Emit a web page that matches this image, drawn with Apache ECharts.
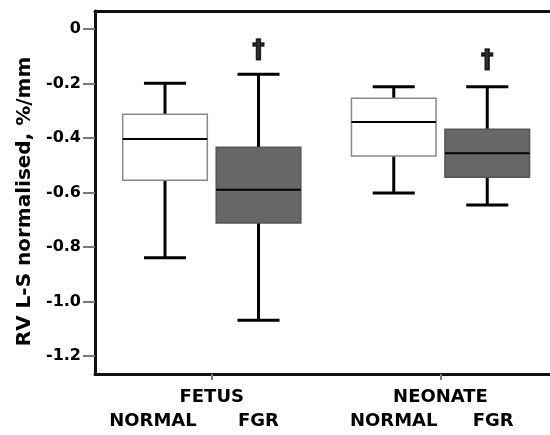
<!DOCTYPE html>
<html>
<head>
<meta charset="utf-8">
<script src="https://cdn.jsdelivr.net/npm/echarts@6/dist/echarts.min.js"></script>
<style>html,body{margin:0;padding:0;background:#fff;}#c{width:550px;height:435px;}</style>
</head>
<body>
<div id="c"></div>
<script>
// ---- data ----
const groups = ['FETUS', 'NEONATE'];
const subCategories = ['NORMAL', 'FGR'];
// [low whisker, Q1, median, Q3, high whisker]
const fetusNormal = [-0.839, -0.555, -0.404, -0.313, -0.199];
const fetusFGR = [-1.069, -0.712, -0.590, -0.434, -0.166];
const neonateNormal = [-0.602, -0.466, -0.341, -0.254, -0.212];
const neonateFGR = [-0.646, -0.544, -0.456, -0.368, -0.212];
const yTickValues = [0, -0.2, -0.4, -0.6, -0.8, -1.0, -1.2];
const yTickLabels = ['0', '-0.2', '-0.4', '-0.6', '-0.8', '-1.0', '-1.2'];
const significanceMark = '†';
const yTitle = 'RV L-S normalised, %/mm';

// ---- styles ----
const FONT = '"DejaVu Sans", "Liberation Sans", Arial, sans-serif';
const boxStyles = [
  { fill: '#ffffff', stroke: '#8a8a8a' },
  { fill: '#676767', stroke: '#555555' }
];
const Y_MIN = -1.266, Y_MAX = 0.066;

function renderBox(params, api) {
  const x = api.value(0);
  const lo = api.coord([x, api.value(1)]);
  const q1 = api.coord([x, api.value(2)]);
  const md = api.coord([x, api.value(3)]);
  const q3 = api.coord([x, api.value(4)]);
  const hi = api.coord([x, api.value(5)]);
  const bw = api.size([1, 0])[0];
  const boxW = bw * 0.905, capW = bw * 0.45;
  const cx = lo[0];
  const st = boxStyles[params.dataIndex];
  const line = (x1, y1, x2, y2, w) => ({
    type: 'line', shape: { x1, y1, x2, y2 },
    style: { stroke: '#000', lineWidth: w, lineCap: 'butt' }
  });
  return {
    type: 'group',
    children: [
      line(cx, hi[1], cx, q3[1], 3),
      line(cx, q1[1], cx, lo[1], 3),
      line(cx - capW / 2, hi[1], cx + capW / 2, hi[1], 3),
      line(cx - capW / 2, lo[1], cx + capW / 2, lo[1], 3),
      {
        type: 'rect',
        shape: { x: cx - boxW / 2, y: q3[1], width: boxW, height: q1[1] - q3[1] },
        style: { fill: st.fill, stroke: st.stroke, lineWidth: 1.5 }
      },
      line(cx - boxW / 2, md[1], cx + boxW / 2, md[1], 2)
    ]
  };
}

function toRows(a, b) {
  return [[0].concat(a), [1].concat(b)];
}

const subLabelStyle = { fontFamily: FONT, fontWeight: 'bold', fontSize: 18, color: '#000' };

function subAxis(gridIndex, padFirst, padSecond) {
  return {
    gridIndex, type: 'category', position: 'bottom',
    data: [
      { value: subCategories[0], textStyle: { padding: padFirst } },
      { value: subCategories[1], textStyle: { padding: padSecond } }
    ],
    axisLine: { show: false }, axisTick: { show: false }, splitLine: { show: false },
    axisLabel: Object.assign({ margin: 38, interval: 0 }, subLabelStyle)
  };
}
function groupAxis(gridIndex, name) {
  return {
    gridIndex, type: 'category', position: 'bottom', data: [name],
    axisLine: { show: false },
    axisTick: { show: true, alignWithLabel: true, length: 6, lineStyle: { color: '#777', width: 2 } },
    splitLine: { show: false },
    axisLabel: Object.assign({ margin: 14 }, subLabelStyle)
  };
}
function hiddenY(gridIndex) {
  return {
    gridIndex, type: 'value', min: Y_MIN, max: Y_MAX, show: false,
    splitLine: { show: false }
  };
}
function frameX(position) {
  return {
    gridIndex: 0, type: 'value', min: 0, max: 1, position,
    axisLine: { show: true, onZero: false, lineStyle: { color: '#111', width: 3 } },
    axisTick: { show: false }, axisLabel: { show: false }, splitLine: { show: false }
  };
}
const daggerLabel = {
  show: true, position: 'top', formatter: significanceMark,
  fontFamily: FONT, fontWeight: 'bold', fontSize: 24, color: '#000',
  textBorderColor: '#000', textBorderWidth: 1.6
};

const chart = echarts.init(document.getElementById('c'), null, { renderer: 'canvas' });
chart.setOption({
  animation: false,
  backgroundColor: '#fff',
  grid: [
    { left: 95, top: 11, right: 0, bottom: 61 },
    { left: 118.25, top: 11, width: 187, bottom: 61 },
    { left: 347, top: 11, width: 187, bottom: 61 }
  ],
  xAxis: [
    frameX('bottom'),
    frameX('top'),
    subAxis(1, [0, 24, 0, 0], [0, 0, 0, 0]),
    groupAxis(1, groups[0]),
    subAxis(2, [0, 0, 0, 0], [0, 0, 0, 12]),
    groupAxis(2, groups[1])
  ],
  yAxis: [
    {
      gridIndex: 0, type: 'value', min: Y_MIN, max: Y_MAX,
      name: yTitle, nameLocation: 'middle', nameGap: 58, nameRotate: 90,
      nameTextStyle: { fontFamily: FONT, fontWeight: 'bold', fontSize: 20, color: '#000', padding: [0, 18, 0, 0] },
      axisLine: { show: true, onZero: false, lineStyle: { color: '#111', width: 3 } },
      axisTick: { show: true, length: 12, customValues: yTickValues, lineStyle: { color: '#777', width: 2 } },
      axisLabel: {
        customValues: yTickValues, margin: 14,
        fontFamily: FONT, fontWeight: 'bold', fontSize: 16, color: '#000',
        formatter: function (v) {
          for (let i = 0; i < yTickValues.length; i++) {
            if (Math.abs(yTickValues[i] - v) < 1e-6) return yTickLabels[i];
          }
          return '';
        }
      },
      splitLine: { show: false }
    },
    hiddenY(1),
    hiddenY(2)
  ],
  series: [
    {
      type: 'custom', xAxisIndex: 2, yAxisIndex: 1,
      renderItem: renderBox,
      encode: { x: 0, y: [1, 2, 3, 4, 5] },
      data: toRows(fetusNormal, fetusFGR)
    },
    {
      type: 'custom', xAxisIndex: 4, yAxisIndex: 2,
      renderItem: renderBox,
      encode: { x: 0, y: [1, 2, 3, 4, 5] },
      data: toRows(neonateNormal, neonateFGR)
    },
    {
      type: 'scatter', xAxisIndex: 2, yAxisIndex: 1, symbolSize: 0, silent: true,
      data: [[1, fetusFGR[4]]],
      label: Object.assign({ distance: 11 }, daggerLabel)
    },
    {
      type: 'scatter', xAxisIndex: 4, yAxisIndex: 2, symbolSize: 0, silent: true,
      data: [[1, neonateFGR[4]]],
      label: Object.assign({ distance: 14 }, daggerLabel)
    }
  ]
});
</script>
</body>
</html>
